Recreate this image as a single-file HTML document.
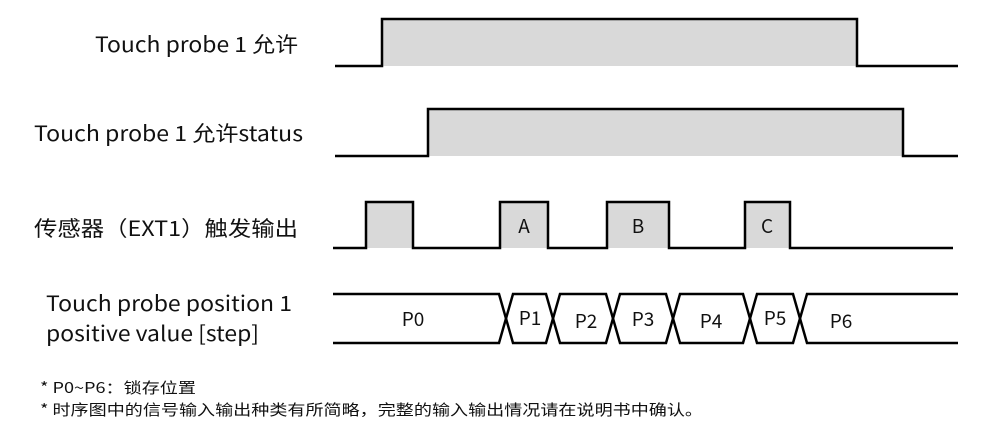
<!DOCTYPE html>
<html><head><meta charset="utf-8"><style>
body{margin:0;background:#fff;width:1000px;height:437px;overflow:hidden}
svg{display:block}
text{font-family:"Noto Sans CJK SC","Liberation Sans",sans-serif;fill:#111}
</style></head><body>
<svg width="1000" height="437" viewBox="0 0 1000 437">
<g font-size="21">
<text x="95" y="52" textLength="203" lengthAdjust="spacingAndGlyphs">Touch probe 1 允许</text>
<text x="34" y="141" textLength="269" lengthAdjust="spacingAndGlyphs">Touch probe 1 允许status</text>
<text x="34" y="236" textLength="264" lengthAdjust="spacingAndGlyphs">传感器（EXT1）触发输出</text>
<text x="46" y="311" textLength="246" lengthAdjust="spacingAndGlyphs">Touch probe position 1</text>
<text x="46" y="341" textLength="213" lengthAdjust="spacingAndGlyphs">positive value [step]</text>
</g>
<g fill="#d9d9d9" stroke="none">
<rect x="382" y="19" width="475" height="47"/>
<rect x="428" y="109" width="475" height="47"/>
<rect x="366" y="202" width="47" height="46"/>
<rect x="500" y="202" width="48" height="46"/>
<rect x="607" y="202" width="62" height="46"/>
<rect x="745" y="202" width="45" height="46"/>
</g>
<g fill="none" stroke="#000" stroke-width="2.5">
<polyline points="335,66 382,66 382,19 857,19 857,66 958,66"/>
<polyline points="335,156 428,156 428,109 903,109 903,156 958,156"/>
<polyline points="333,248 366,248 366,202 413,202 413,248 500,248 500,202 548,202 548,248 607,248 607,202 669,202 669,248 745,248 745,202 790,202 790,248 953,248"/>
<polyline points="333,294 499,294 513,343 546,343 560,294 606,294 620,343 666,343 680,294 743,294 757,343 793,343 807,294 958,294"/>
<polyline points="333,343 499,343 513,294 546,294 560,343 606,343 620,294 666,294 680,343 743,343 757,294 793,294 807,343 958,343"/>
</g>
<g font-size="19" text-anchor="middle">
<text x="524" y="233">A</text>
<text x="638" y="233">B</text>
<text x="767" y="233">C</text>
<text x="413" y="326">P0</text>
<text x="530" y="325">P1</text>
<text x="586" y="328">P2</text>
<text x="643" y="326">P3</text>
<text x="711" y="328">P4</text>
<text x="775" y="325">P5</text>
<text x="841" y="328">P6</text>
</g>
<g font-size="15">
<text x="40" y="393" textLength="156" lengthAdjust="spacingAndGlyphs">* P0~P6：锁存位置</text>
<text x="40" y="415" textLength="663" lengthAdjust="spacingAndGlyphs">* 时序图中的信号输入输出种类有所简略，完整的输入输出情况请在说明书中确认。</text>
</g>
</svg>
</body></html>
